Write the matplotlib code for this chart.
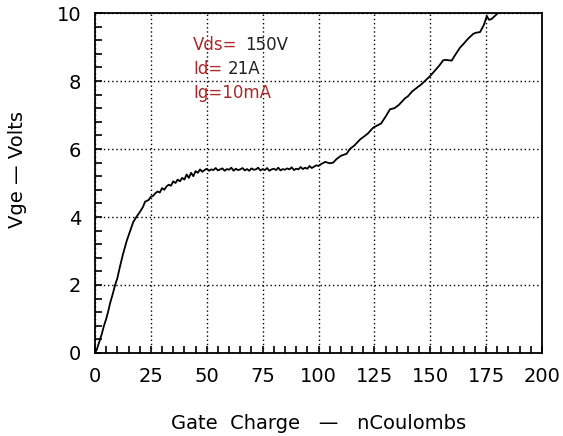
import matplotlib
matplotlib.use("Agg")
import matplotlib.pyplot as plt
from matplotlib.ticker import MultipleLocator

# Gate charge (nC) and gate voltage (V)
charge = [0, 0.8, 2, 3, 4, 5, 6, 6.7, 8, 9, 10, 11.2, 12.5, 14.2, 15.5, 17.1, 18.5, 20.1,
          21.5, 22.4, 24, 25, 26, 27, 28, 29, 30, 31, 32, 33, 34, 35, 36, 37, 38, 39, 40,
          41, 42, 43, 44, 45, 46, 47, 48, 49, 50, 51, 52, 53, 54, 55, 56, 57, 58, 59, 60,
          61, 62, 63, 64, 65, 66, 67, 68, 69, 70, 71, 72, 73, 74, 75, 76, 77, 78, 79, 80,
          81, 82, 83, 84, 85, 86, 87, 88, 89, 90, 91, 92, 93, 94, 95, 96, 97, 98, 99, 100,
          101, 103, 105, 106.6, 108, 110, 112.6, 114, 116, 118.6, 120, 122, 124.5, 126,
          128, 130, 132, 134, 136, 138.7, 140, 142, 144, 146, 148.4, 150, 152, 154, 155.8,
          157, 159.6, 161, 163.3, 165, 167, 169.3, 170.5, 172.3, 174, 175.3, 176.3, 177.4,
          179, 180.4]
vge = [0.0, 0.1, 0.35, 0.55, 0.8, 1.0, 1.25, 1.45, 1.75, 2.0, 2.2, 2.55, 2.9, 3.3, 3.55,
       3.85, 4.0, 4.15, 4.3, 4.45, 4.5, 4.6, 4.62, 4.7, 4.75, 4.72, 4.85, 4.8, 4.9, 4.95,
       4.92, 5.05, 5.0, 5.1, 5.05, 5.15, 5.1, 5.25, 5.15, 5.3, 5.2, 5.35, 5.3, 5.4, 5.33,
       5.38, 5.42, 5.36, 5.4, 5.38, 5.44, 5.37, 5.4, 5.43, 5.36, 5.41, 5.39, 5.45, 5.36,
       5.42, 5.38, 5.4, 5.44, 5.37, 5.41, 5.36, 5.43, 5.39, 5.4, 5.45, 5.37, 5.41, 5.38,
       5.44, 5.36, 5.4, 5.42, 5.38, 5.45, 5.37, 5.41, 5.39, 5.43, 5.4, 5.46, 5.38, 5.42,
       5.4, 5.47, 5.41, 5.45, 5.42, 5.5, 5.44, 5.48, 5.52, 5.5,
       5.55, 5.62, 5.58, 5.6, 5.7, 5.8, 5.86, 6.0, 6.1, 6.28, 6.35, 6.45, 6.63, 6.68,
       6.75, 6.95, 7.17, 7.2, 7.3, 7.49, 7.55, 7.7, 7.8, 7.9, 8.05, 8.15, 8.3, 8.45, 8.61,
       8.62, 8.6, 8.75, 8.98, 9.1, 9.25, 9.39, 9.42, 9.44, 9.65, 9.91, 9.8, 9.82, 9.92, 10.0]

xticks = [0, 25, 50, 75, 100, 125, 150, 175, 200]
yticks = [0, 2, 4, 6, 8, 10]
xlabel = "Gate  Charge   \u2014   nCoulombs"
ylabel = "Vge \u2014 Volts"
red = "#a82a2a"

fig = plt.figure(figsize=(5.63, 4.36), dpi=100)
ax = fig.add_axes([95/563, 1 - 353/436, (542 - 95)/563, (353 - 13)/436])

ax.plot(charge, vge, color="black", lw=1.3)
ax.set_xlim(0, 200)
ax.set_ylim(0, 10)
ax.set_xticks(xticks)
ax.set_yticks(yticks)
ax.xaxis.set_minor_locator(MultipleLocator(5))
ax.yaxis.set_minor_locator(MultipleLocator(0.4))
ax.tick_params(which="both", direction="in", top=False, right=False, labelsize=14, width=1.2)
ax.tick_params(which="major", length=5, pad=10)
ax.tick_params(which="minor", length=5)
ax.grid(True, which="major", color="black", linestyle=(0, (1, 2)), lw=1.0)
for s in ax.spines.values():
    s.set_linewidth(1.3)

ax.set_xlabel(xlabel, fontsize=14)
ax.set_ylabel(ylabel, fontsize=14)
ax.xaxis.set_label_coords(0.5, -0.18)
ax.yaxis.set_label_coords(-0.152, 0.54)

ax.text(44, 9.05, "Vds=", color=red, fontsize=12, va="center")
ax.text(67, 9.05, "150V", color="#222222", fontsize=12, va="center")
ax.text(44, 8.35, "Id=", color=red, fontsize=12, va="center")
ax.text(59.5, 8.35, "21A", color="#222222", fontsize=12, va="center")
ax.text(44, 7.66, "Ig=10mA", color=red, fontsize=12, va="center")

fig.savefig("out.png", dpi=100)
